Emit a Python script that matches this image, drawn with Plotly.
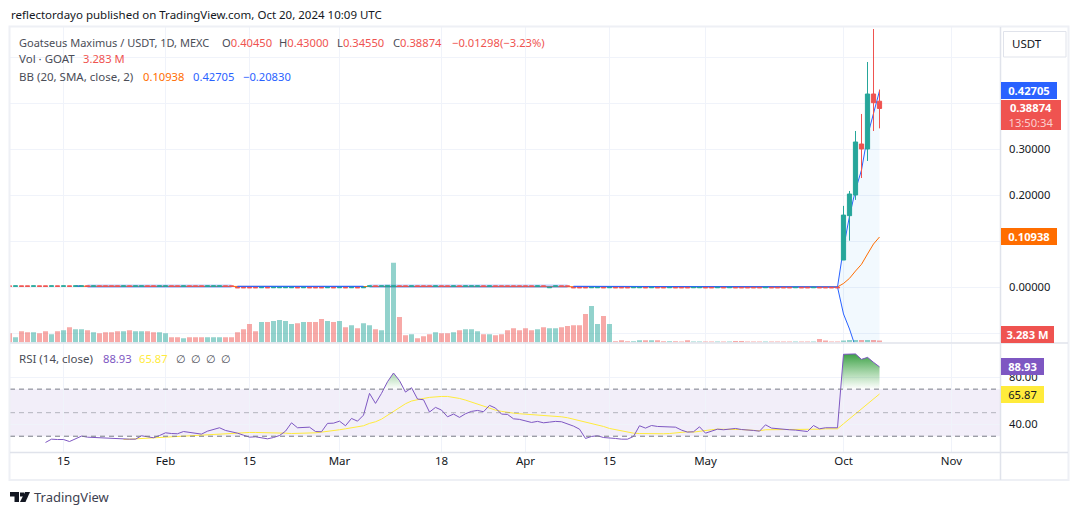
import plotly.graph_objects as go

W, H = 1080, 515
FONT = "Noto Sans"
INK = "#131722"
SOFT_INK = "#4a4d57"
GRID = "#f0f3fa"
EDGE = "#e0e3eb"
UP = "#26a69a"
DOWN = "#ef5350"
BLUE = "#2962ff"
ORANGE = "#ff6d00"
PURPLE = "#7e57c2"
YELLOW = "#ffeb3b"
WORD_SIZE = 11.5
DIGIT_SIZE = 11.2

# Daily bars, oldest first: r = close below open, g = close above open
direction = (
    "rgrrgrrgrg" "rggrgrrrrg" "rggrrggrrg" "rrrgggrrrr" "rrgrggggrg"
    "rrrgrgrgrg" "grgggrrgrr" "rgrrgrgggr" "grrrrrrrgr" "ggrrrrrggr"
    "grrrggrgrr" "grrrggrrgr" "grrrrrgrrr" "rgrrgrrrrg" "ggrgrr"
)

# Flat price level of the bars before the breakout
flat_level = [0.0022] * 38 + [-0.001] * 22 + [0.0022] * 30 + [-0.001] + [0.0022] * 3 + [-0.001] * 45

# Breakout candles
run_open = [0.0593, 0.1557, 0.2007, 0.3115, 0.3007, 0.4202, 0.40450]
run_high = [0.1770, 0.2094, 0.3398, 0.3768, 0.4898, 0.5615, 0.43000]
run_low = [0.0593, 0.1013, 0.1900, 0.2376, 0.2746, 0.3398, 0.34550]
run_close = [0.1570, 0.2028, 0.3159, 0.3007, 0.4202, 0.4013, 0.38874]

# Volume in millions
volume = [
    15.4, 8.8, 18.7, 17.1, 17.1, 15.4, 18.7, 13.8, 18.7, 20.4,
    25.3, 22.0, 22.0, 20.4, 17.1, 15.4, 17.1, 17.1, 18.7, 18.7,
    20.4, 18.7, 18.7, 18.7, 17.1, 17.1, 15.4, 8.8, 8.8, 7.2,
    8.8, 8.8, 8.8, 8.8, 8.8, 8.8, 8.8, 8.8, 17.1, 22.0,
    30.3, 18.7, 33.6, 33.6, 35.2, 36.9, 35.2, 30.3, 31.9, 33.6,
    33.6, 33.6, 38.5, 35.2, 33.6, 35.2, 25.3, 28.6, 23.7, 31.9,
    28.6, 22.0, 20.4, 94.6, 130.9, 41.8, 12.1, 13.8, 7.2, 10.5,
    13.8, 17.1, 15.4, 15.4, 17.1, 20.4, 22.0, 22.0, 18.7, 13.8,
    13.8, 12.1, 13.8, 20.4, 23.7, 20.4, 23.7, 20.4, 22.0, 25.3,
    23.7, 23.7, 25.3, 27.0, 28.6, 28.6, 46.8, 60.0, 30.3, 43.5,
    30.3, 2.2, 3.9, 2.2, 2.2, 3.9, 3.9, 3.9, 3.9, 2.2,
    2.2, 2.2, 1.7, 3.9, 1.7, 1.7, 1.7, 1.7, 1.7, 1.7,
    1.7, 2.8, 2.8, 1.7, 1.7, 1.7, 1.7, 1.7, 1.7, 1.7,
    1.7, 1.7, 1.7, 1.7, 1.7, 6.1, 3.3, 1.7, 1.7, 3.3,
    4.4, 4.4, 4.4, 4.4, 4.4, 3.283,
]

# Bollinger Bands (20, SMA, close, 2)
bb_upper = (
    [None] * 11 + [0.0028] * 2 + [0.0038] * 25 + [0.0022] * 22 + [0.0038] * 34 + [0.0022] * 44
    + [0.0007, 0.0854, 0.1550, 0.2115, 0.2550, 0.3290, 0.3810, 0.42705]
)
bb_lower = (
    [None] * 11 + [0.0022] * 2 + [0.0006] * 25 + [0.0018] * 22 + [0.0006] * 34 + [0.0018] * 44
    + [0.0005, -0.0580, -0.0907, -0.1300, -0.1550, -0.1750, -0.1950, -0.20830]
)
bb_basis = (
    [None] * 11 + [0.0022] * 27 + [0.0020] * 22 + [0.0022] * 34 + [0.0020] * 44
    + [0.0008, 0.0083, 0.0195, 0.0354, 0.0500, 0.0724, 0.0941, 0.10938]
)

# RSI (14) starts on bar 6, its moving average on bar 19
rsi = [None] * 6 + [
    24.7, 27.5, 27.2, 27.2, 25.5, 27.5, 30.1, 29.2, 28.9, 28.7,
    28.1, 27.8, 27.5, 27.2, 27.5, 27.5, 30.4, 29.5, 28.7, 30.6,
    32.9, 32.3, 32.1, 34.0, 33.2, 32.9, 31.8, 34.3, 35.7, 37.2,
    34.9, 34.0, 32.6, 30.9, 29.2, 29.5, 28.9, 27.8, 28.9, 30.6,
    34.3, 41.4, 37.2, 37.7, 37.7, 34.0, 33.8, 40.9, 41.1, 42.8,
    38.9, 45.1, 42.8, 47.9, 66.4, 57.9, 66.4, 76.3, 83.7, 77.2,
    67.5, 71.2, 61.6, 61.0, 50.5, 54.5, 52.2, 46.5, 48.8, 46.0,
    49.1, 51.1, 51.9, 50.8, 56.2, 53.9, 48.8, 48.5, 44.8, 44.3,
    42.8, 41.7, 42.6, 41.4, 42.0, 42.6, 42.3, 40.6, 38.6, 36.0,
    28.1, 29.8, 30.4, 28.9, 28.7, 28.1, 27.5, 27.5, 29.8, 38.9,
    36.9, 39.1, 38.3, 38.3, 38.0, 37.7, 35.2, 33.5, 33.8, 38.0,
    32.6, 34.0, 36.0, 35.5, 36.0, 36.6, 35.7, 35.5, 34.9, 34.3,
    39.7, 36.9, 36.3, 35.5, 35.5, 35.2, 34.6, 34.0, 39.1, 36.3,
    37.2, 37.2, 37.2, 99.6, 99.9, 99.9, 95.3, 97.0, 92.8, 88.93,
]
rsi_ma = [None] * 19 + [
    27.2, 27.5, 27.8, 28.1, 28.4, 28.7, 28.9, 29.2, 29.5, 29.8,
    30.1, 30.1, 30.4, 30.6, 30.9, 31.5, 32.1, 32.3, 32.6, 32.9,
    32.9, 33.2, 33.2, 33.2, 32.9, 32.9, 32.6, 32.6, 32.3, 32.3,
    32.6, 32.6, 32.9, 33.5, 34.0, 34.9, 35.5, 36.3, 37.2, 38.0,
    38.9, 40.9, 42.3, 44.5, 47.9, 51.3, 54.8, 57.6, 59.9, 61.3,
    62.1, 63.0, 63.5, 63.8, 63.8, 63.0, 62.1, 60.7, 59.0, 57.0,
    55.0, 53.6, 52.2, 51.1, 50.2, 49.6, 49.1, 48.8, 48.2, 47.9,
    47.7, 47.4, 47.1, 46.5, 45.7, 44.5, 43.1, 41.7, 40.6, 39.4,
    38.3, 36.6, 35.5, 34.6, 33.5, 32.6, 32.3, 32.1, 32.1, 32.1,
    32.1, 32.3, 32.9, 33.5, 33.8, 33.5, 34.3, 35.2, 35.5, 36.0,
    35.7, 35.7, 35.7, 35.7, 35.5, 35.2, 34.6, 35.5, 35.5, 35.7,
    35.7, 35.7, 35.7, 35.5, 35.5, 36.0, 36.0, 36.3, 36.3, 36.3,
    40.6, 44.8, 49.1, 53.3, 57.6, 61.8, 65.87,
]

# Time axis labels and the bars they sit on
time_ticks = [9, 26, 40, 55, 72, 86, 100, 116, 139, 157]
time_labels = ["15", "Feb", "15", "Mar", "18", "Apr", "15", "May", "Oct", "Nov"]

# Price axis
price_ticks = [-0.1, 0.0, 0.1, 0.2, 0.3, 0.4, 0.5]
price_labels = ["-0.10000", "0.00000", "", "0.20000", "0.30000", "", ""]
rsi_ticks = [40, 80]
rsi_labels = ["40.00", "80.00"]

bars = list(range(len(direction)))
n_flat = len(flat_level)
falling = [d == "r" for d in direction]
opens = [v + (0.0008 if falling[i] else 0) for i, v in enumerate(flat_level)] + run_open
closes = [v + (0 if falling[i] else 0.0008) for i, v in enumerate(flat_level)] + run_close
highs = [max(opens[i], closes[i]) for i in range(n_flat)] + run_high
lows = [min(opens[i], closes[i]) for i in range(n_flat)] + run_low


def px(x):
    return x / W


def py(y):
    return 1 - y / H


def above_70(first, last):
    """Outline of the RSI above its 70 level between two bars, closed along that level."""
    a, b = rsi[first - 1], rsi[first]
    xs = [first - 1 + (70 - a) / (b - a)]
    ys = [70]
    for i in range(first, last + 1):
        xs.append(i)
        ys.append(rsi[i])
    if last + 1 < len(rsi):
        a, b = rsi[last], rsi[last + 1]
        xs.append(last + (a - 70) / (a - b))
    else:
        xs.append(last)
    ys.append(70)
    return xs, ys


def flat_run(values):
    """Keep only the flat stretches where the bands sit slightly apart."""
    return [v if v in (0.0038, 0.0006) else None for v in values]


def sharp_run(values):
    return [None if v in (0.0038, 0.0006) else v for v in values]


fig = go.Figure()

# Bollinger Bands, shaded from the start of the breakout
fig.add_trace(go.Scatter(x=bars[138:], y=bb_lower[138:], mode="lines", line=dict(width=0),
                         yaxis="y", hoverinfo="skip"))
fig.add_trace(go.Scatter(x=bars[138:], y=bb_upper[138:], mode="lines", line=dict(width=0),
                         fill="tonexty", fillcolor="rgba(33,150,243,0.06)",
                         yaxis="y", hoverinfo="skip"))
fig.add_trace(go.Scatter(x=bars, y=bb_basis, mode="lines", line=dict(color=ORANGE, width=1),
                         yaxis="y", hoverinfo="skip"))
for series in (bb_upper, bb_lower):
    fig.add_trace(go.Scatter(x=bars, y=flat_run(series), mode="lines",
                             line=dict(color="rgba(41,98,255,0.3)", width=2),
                             yaxis="y", hoverinfo="skip"))
    fig.add_trace(go.Scatter(x=bars, y=sharp_run(series), mode="lines",
                             line=dict(color=BLUE, width=1), yaxis="y", hoverinfo="skip"))

# Volume
fig.add_trace(go.Bar(
    x=bars, y=volume, yaxis="y3", hoverinfo="skip",
    marker=dict(color=["rgba(239,83,80,0.5)" if f else "rgba(38,166,154,0.5)" for f in falling],
                line=dict(width=0)),
))

# Candles
fig.add_trace(go.Candlestick(
    x=bars, open=opens, high=highs, low=lows, close=closes, yaxis="y4", hoverinfo="skip",
    increasing=dict(line=dict(color=UP, width=1), fillcolor=UP),
    decreasing=dict(line=dict(color=DOWN, width=1), fillcolor=DOWN),
))

# RSI pane
for first, last in ((63, 65), (67, 67), (139, 145)):
    xs, ys = above_70(first, last)
    fig.add_trace(go.Scatter(
        x=xs, y=ys, mode="none", fill="toself", yaxis="y2", hoverinfo="skip",
        fillgradient=dict(type="vertical", start=70, stop=100,
                          colorscale=[[0, "rgba(76,175,80,0)"], [1, "rgba(60,160,70,1)"]]),
    ))
fig.add_trace(go.Scatter(x=bars, y=rsi_ma, mode="lines", line=dict(color=YELLOW, width=1),
                         yaxis="y2", hoverinfo="skip"))
fig.add_trace(go.Scatter(x=bars, y=rsi, mode="lines", line=dict(color=PURPLE, width=1),
                         yaxis="y2", hoverinfo="skip"))

shapes = [
    # RSI band and its guide levels
    dict(type="rect", xref="x domain", x0=0, x1=1, yref="y2", y0=30, y1=70, layer="below",
         fillcolor="rgba(126,87,194,0.1)", line=dict(width=0)),
    dict(type="line", xref="x domain", x0=0, x1=1, yref="y2", y0=70, y1=70,
         line=dict(color="#787b86", width=1, dash="5px,4px")),
    dict(type="line", xref="x domain", x0=0, x1=1, yref="y2", y0=50, y1=50,
         line=dict(color="rgba(120,123,134,0.5)", width=1, dash="5px,4px")),
    dict(type="line", xref="x domain", x0=0, x1=1, yref="y2", y0=30, y1=30,
         line=dict(color="#787b86", width=1, dash="5px,4px")),
]


def frame_rect(x0, y0, x1, y1, color=EDGE, width=1, fill=None):
    shapes.append(dict(type="rect", xref="paper", yref="paper", x0=px(x0), x1=px(x1),
                       y0=py(y0), y1=py(y1), line=dict(color=color, width=width),
                       fillcolor=fill, layer="above"))


def frame_line(x0, y0, x1, y1):
    shapes.append(dict(type="line", xref="paper", yref="paper", x0=px(x0), x1=px(x1),
                       y0=py(y0), y1=py(y1), line=dict(color=EDGE, width=1.5), layer="above"))


def glyph(points):
    path = "M" + " L".join(f"{px(x):.5f},{py(y):.5f}" for x, y in points) + " Z"
    shapes.append(dict(type="path", xref="paper", yref="paper", path=path,
                       fillcolor=INK, line=dict(width=0), layer="above"))


frame_rect(9.5, 26.5, 1068.5, 480, color="#eef0f5", width=2)
frame_line(1000.5, 27, 1000.5, 480)
frame_line(10, 343, 1068, 343)
frame_line(10, 452.5, 1068, 452.5)

# Logo in the footer
glyph([(10, 492), (19, 492), (19, 502), (14.5, 502), (14.5, 496.5), (10, 496.5)])
glyph([(20, 492.5), (24, 492.5), (24, 496.5), (20, 496.5)])
glyph([(25, 492), (30, 492), (25.5, 502), (20, 502)])

annotations = []


def label(x, y, text, color=INK, size=DIGIT_SIZE, anchor="left"):
    annotations.append(dict(xref="paper", yref="paper", x=px(x), y=py(y), text=text,
                            showarrow=False, xanchor=anchor, yanchor="middle", borderpad=0,
                            font=dict(family=FONT, size=size, color=color)))


def tag(y, text, fill, color="#ffffff", x0=1001, width=56, height=17, yref="y"):
    annotations.append(dict(xref="paper", yref=yref, x=px(x0), y=y, text=text, showarrow=False,
                            xanchor="left", yanchor="middle", width=width, height=height,
                            bgcolor=fill, borderpad=0, borderwidth=0, align="center",
                            valign="middle", font=dict(family=FONT, size=DIGIT_SIZE, color=color)))


label(10, 15, "reflectordayo published on TradingView.com, Oct 20, 2024 10:09 UTC", size=WORD_SIZE)

label(18, 42, "Goatseus Maximus / USDT, 1D, MEXC", SOFT_INK, size=11)
for x, head, value in ((221, "O", "0.40450"), (278, "H", "0.43000"),
                       (336, "L", "0.34550"), (392, "C", "0.38874")):
    label(x, 42, f'<span style="color:{SOFT_INK}">{head}</span>{value}', DOWN)
label(451, 42, "−0.01298", DOWN)
label(499, 42, "(−3.23%)", DOWN)

label(18, 59, "Vol · GOAT", SOFT_INK, size=WORD_SIZE)
label(82, 59, "3.283 M", DOWN)

label(18, 76, "BB (20, SMA, close, 2)", SOFT_INK, size=WORD_SIZE)
label(142, 76, "0.10938", ORANGE)
label(192, 76, "0.42705", BLUE)
label(242, 76, "−0.20830", BLUE)

label(18, 358, "RSI (14, close)", SOFT_INK, size=WORD_SIZE)
label(102, 358, "88.93", PURPLE)
label(138, 358, "65.87", YELLOW)
for x in (175, 190, 205, 220):
    label(x, 358, "∅", SOFT_INK)

label(33, 497, "TradingView", "#3d4150", size=13)

# Price and indicator tags on the right-hand scale
frame_rect(1003.5, 31.5, 1066, 57, fill="#ffffff")
label(1027, 44, "USDT", size=WORD_SIZE, anchor="center")
tag(0.42705, "<b>0.42705</b>", BLUE)
tag(0.10938, "<b>0.10938</b>", ORANGE)
tag(py(115), '<b>0.38874</b><br><span style="color:#fbd0cf">13:50:34</span>', DOWN,
    width=60, height=30, yref="paper")
tag(py(334), "<b>3.283 M</b>", DOWN, width=53, yref="paper")
tag(88.93, "<b>88.93</b>", PURPLE, width=43, yref="y2")
tag(65.87, "65.87", YELLOW, color=INK, width=43, yref="y2")

# Shared vertical scale of the main pane: price is 460 px per unit, with 0 at y = 287.3
price_range = [(287.3 - 342.6) / 460, (287.3 - 27) / 460]
main_domain = [py(342.6), py(27)]

axis_font = dict(family=FONT, size=DIGIT_SIZE, color=INK)
fig.update_layout(
    width=W, height=H, autosize=False,
    margin=dict(l=0, r=0, t=0, b=0),
    paper_bgcolor="#ffffff", plot_bgcolor="#ffffff",
    showlegend=False, barmode="overlay", bargap=0.17, boxgap=0.3, boxgroupgap=0,
    shapes=shapes, annotations=annotations,
    # Half-pixel offset keeps the one-pixel wicks on a single pixel column
    xaxis=dict(domain=[px(10), px(1000)], range=[0.5 / 6, 990.5 / 6], anchor="y2",
               tickmode="array", tickvals=time_ticks, ticktext=time_labels,
               showgrid=True, gridcolor=GRID, gridwidth=1, zeroline=False, ticks="",
               tickfont=dict(family=FONT, size=WORD_SIZE, color=INK),
               showline=False, rangeslider=dict(visible=False)),
    yaxis=dict(domain=main_domain, range=price_range, side="right", anchor="x",
               tickmode="array", tickvals=price_ticks, ticktext=price_labels,
               showgrid=True, gridcolor=GRID, zeroline=False, ticks="",
               ticklabelstandoff=8, tickfont=axis_font),
    yaxis2=dict(domain=[py(452.2), py(343.5)], range=[16.43, 108.77], side="right", anchor="x",
                tickmode="array", tickvals=rsi_ticks, ticktext=rsi_labels,
                showgrid=True, gridcolor=GRID, zeroline=False, ticks="",
                ticklabelstandoff=8, tickfont=axis_font),
    yaxis3=dict(overlaying="y", side="right", range=[0, 517], visible=False, showgrid=False),
    yaxis4=dict(overlaying="y", side="right", range=price_range, visible=False, showgrid=False),
)

fig.write_html("out.html", config=dict(displayModeBar=False))
